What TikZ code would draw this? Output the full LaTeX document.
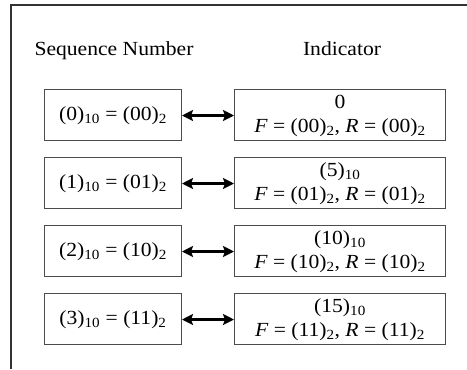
\documentclass[tikz,border=0pt]{standalone}
\usepackage{fontspec}
\setmainfont[FakeStretch=1.08]{Liberation Serif}
\usetikzlibrary{arrows.meta}
\begin{document}
\begin{tikzpicture}[x=1bp,y=-1bp,
  box/.style={draw=black!70,line width=1bp,inner sep=0pt},
  txt/.style={font=\fontsize{20bp}{24bp}\selectfont,align=center,inner sep=0pt},
  link/.style={line width=2.3bp,{Stealth[length=11bp,width=11bp,inset=2bp]}-{Stealth[length=11bp,width=11bp,inset=2bp]}}]
\useasboundingbox (0,0) rectangle (467,369);
\draw[black!80,line width=1.2bp] (467,5) -- (11,5) -- (11,369);
\node[txt,anchor=base] (hs) at (114,55) {Sequence Number};
\node[txt,anchor=base] (hi) at (342,55) {Indicator};
\foreach \i/\a/\b/\c in {0/0/00/0,1/1/01/(5)\textsubscript{10},2/2/10/(10)\textsubscript{10},3/3/11/(15)\textsubscript{10}}{
  \pgfmathsetmacro{\t}{89+68*\i}
  \node[box,minimum width=137bp,minimum height=51bp,anchor=north west] (L\i) at (44,\t) {};
  \node[box,minimum width=211bp,minimum height=51bp,anchor=north west] (R\i) at (234,\t) {};
  \node[txt] (lt\i) at ([yshift=-1bp]L\i.center) {(\a)\textsubscript{10} = (\b)\textsubscript{2}};
  \node[txt] (rt\i) at ([yshift=-1bp]R\i.center) {\c\\\textit{F} = (\b)\textsubscript{2}, \textit{R} = (\b)\textsubscript{2}};
  \draw[link] ([yshift=-0.5bp]L\i.east) -- ([yshift=-0.5bp]R\i.west);
}
\end{tikzpicture}
\end{document}
